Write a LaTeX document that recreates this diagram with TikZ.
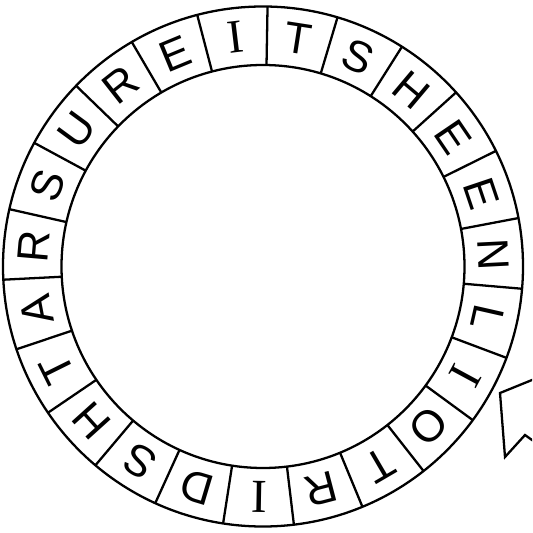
\documentclass[tikz,border=0pt]{standalone}
\usepackage{fontspec}
\setsansfont{Liberation Sans}
\setmainfont{Liberation Serif}
\newcommand{\serifI}{{\rmfamily\fontsize{27}{27}\selectfont I}}
\begin{document}
\begin{tikzpicture}[
   ring/.style={draw=black,line width=1.3pt},
   letter/.style={font=\sffamily\fontsize{25}{25}\selectfont,inner sep=0pt},
   pointer/.style={draw=black,line width=1.3pt,line join=miter}]
\useasboundingbox (-5.26,-5.33) rectangle (5.38,5.33);
% ring
\draw[ring] (0,0) circle (5.2);
\draw[ring] (0,0) circle (4.03);
% spokes
\foreach \k in {0,...,22}
  \draw[ring] ({89-360/23*\k}:4.03) -- ({89-360/23*\k}:5.2);
% letters, clockwise from the top
\foreach \ch [count=\k from 0] in {T,S,H,E,E,N,L,\serifI,O,T,R,\serifI,D,S,H,T,A,R,S,U,R,E,\serifI}
  \node[letter,rotate={89-360/23*(\k+0.5)-90}] (c\k) at ({89-360/23*(\k+0.5)}:4.61) {\ch};
% pointer, cut off at the right edge
\begin{scope}
\clip (-5.26,-5.33) rectangle (5.38,5.33);
\draw[pointer] (6.02,-2.01) -- (4.74,-2.53) -- (4.84,-3.81) -- (5.24,-3.37) -- (5.94,-3.87);
\end{scope}
\end{tikzpicture}
\end{document}
